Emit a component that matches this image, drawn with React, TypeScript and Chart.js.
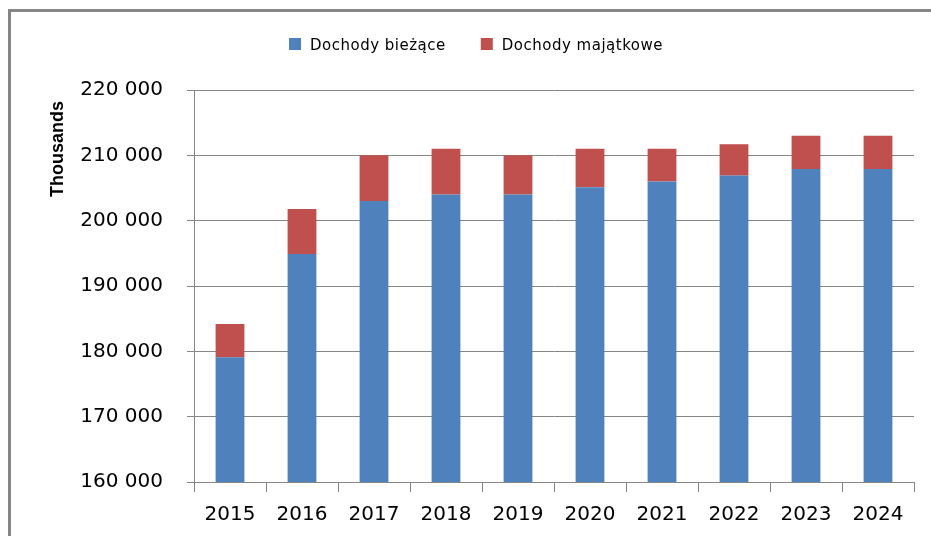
import React, { useEffect, useRef } from "react";
import { Chart, registerables } from "chart.js";

Chart.register(...registerables);

const years = ["2015", "2016", "2017", "2018", "2019", "2020", "2021", "2022", "2023", "2024"];
const currentIncome = [179100, 194900, 203000, 204000, 204000, 205100, 206000, 206900, 207900, 207900];
const propertyIncome = [5100, 6900, 7000, 7000, 6000, 5900, 5000, 4800, 5100, 5100];
const seriesLabels = ["Dochody bieżące", "Dochody majątkowe"];
const yTitle = "Thousands";
const yMin = 160000;
const yMax = 220000;
const yStep = 10000;

const GRID = "#868686";

const overlay = {
  id: "overlay",
  afterDraw(chart: any) {
    const ctx = chart.ctx;
    ctx.save();
    ctx.font = '15px "DejaVu Sans"';
    (ctx as any).letterSpacing = "0.5px";
    ctx.textBaseline = "alphabetic";
    ctx.textAlign = "left";
    let x = 289;
    chart.data.datasets.forEach((ds: any) => {
      ctx.fillStyle = ds.backgroundColor;
      ctx.fillRect(x, 38, 12, 12);
      x += 12 + 9;
      ctx.fillStyle = "#000";
      ctx.fillText(ds.label, x, 50);
      x += ctx.measureText(ds.label).width + 35;
    });
    (ctx as any).letterSpacing = "0px";
    ctx.translate(63, 149);
    ctx.rotate(-Math.PI / 2);
    ctx.font = 'bold 18px "Liberation Sans"';
    ctx.textAlign = "center";
    ctx.textBaseline = "alphabetic";
    ctx.fillStyle = "#000";
    ctx.fillText(yTitle, 0, 0);
    ctx.restore();
  },
};

export default function App() {
  const ref = useRef<HTMLCanvasElement>(null);
  useEffect(() => {
    if (!ref.current) return;
    const chart = new Chart(ref.current, {
      type: "bar",
      data: {
        labels: years,
        datasets: [
          { label: seriesLabels[0], data: currentIncome, backgroundColor: "#4F81BD", barPercentage: 0.4, categoryPercentage: 1 },
          { label: seriesLabels[1], data: propertyIncome, backgroundColor: "#C0504D", barPercentage: 0.4, categoryPercentage: 1 },
        ],
      },
      options: {
        responsive: false,
        animation: false,
        layout: { padding: { top: 90, right: 17, left: 0, bottom: 0 } },
        plugins: { legend: { display: false }, tooltip: { enabled: false }, title: { display: false } },
        scales: {
          x: {
            stacked: true,
            grid: { drawOnChartArea: false, drawTicks: true, tickLength: 10, color: GRID, offset: true },
            border: { color: GRID, width: 1 },
            ticks: { color: "#000", font: { family: "DejaVu Sans", size: 20 }, padding: 11, maxRotation: 0 },
            afterFit(scale: any) {
              scale.height = 54;
            },
          },
          y: {
            stacked: true,
            min: yMin,
            max: yMax,
            grid: { color: GRID, tickLength: 7, lineWidth: 1 },
            border: { color: GRID, width: 1 },
            ticks: {
              stepSize: yStep,
              color: "#000",
              font: { family: "DejaVu Sans", size: 20 },
              padding: 24,
              callback: (v: any) => String(v).replace(/\B(?=(\d{3})+(?!\d))/g, " "),
            },
            afterFit(scale: any) {
              scale.width = 194;
            },
          },
        },
      },
      plugins: [overlay],
    });
    return () => chart.destroy();
  }, []);
  return (
    <div style={{ position: "fixed", left: 0, top: 0, width: 931, height: 536, overflow: "hidden", background: "#fff" }}>
      <div
        style={{
          position: "absolute",
          left: 8,
          top: 9,
          width: 1000,
          height: 1000,
          border: `3px solid ${GRID}`,
        }}
      />
      <canvas ref={ref} width={931} height={536} style={{ position: "absolute", left: 0, top: 0, width: 931, height: 536 }} />
    </div>
  );
}
